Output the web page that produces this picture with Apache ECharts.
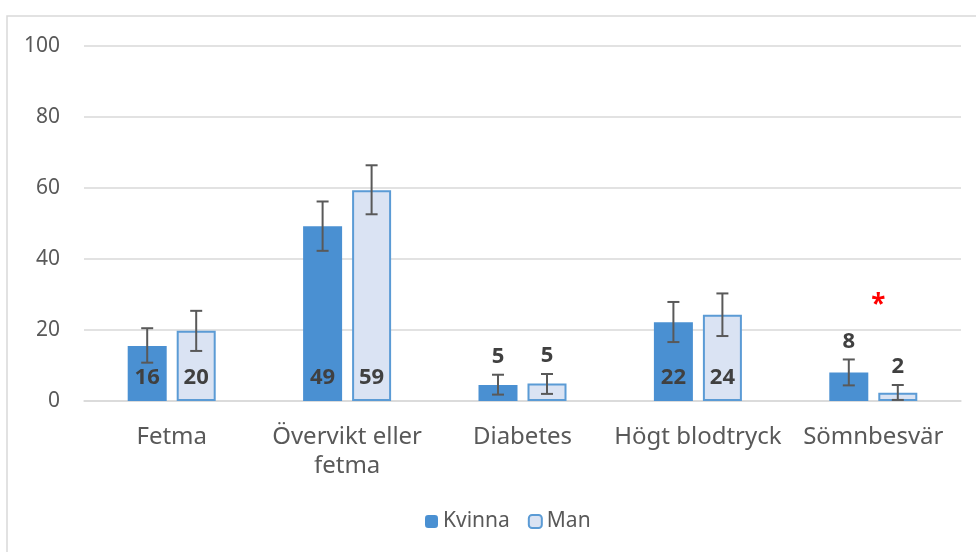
<!DOCTYPE html>
<html>
<head>
<meta charset="utf-8">
<script src="https://cdn.jsdelivr.net/npm/echarts@6/dist/echarts.min.js"></script>
<style>
  html, body { margin: 0; padding: 0; background: #fff; }
  #main { width: 976px; height: 552px; }
</style>
</head>
<body>
<div id="main"></div>
<script>
// data
var categories = ['Fetma', 'Övervikt eller\nfetma', 'Diabetes', 'Högt blodtryck', 'Sömnbesvär'];
var kvinna = [15.5, 49.2, 4.5, 22.2, 8.0];
var kvinnaLow = [10.8, 42.3, 1.8, 16.6, 4.4];
var kvinnaHigh = [20.5, 56.2, 7.4, 27.9, 11.7];
var kvinnaLabels = ['16', '49', '5', '22', '8'];
var man = [19.8, 59.4, 4.9, 24.3, 2.3];
var manLow = [14.1, 52.6, 2.0, 18.3, 0.3];
var manHigh = [25.4, 66.4, 7.6, 30.3, 4.5];
var manLabels = ['20', '59', '5', '24', '2'];
var sigMarks = ['', '', '', '', '*'];
var sigLevel = [0, 0, 0, 0, 27];
var yTicks = [0, 20, 40, 60, 80, 100];

var chart = echarts.init(document.getElementById('main'));

var BAR_W = 39;
var GAP = 10;
var OFF = (BAR_W + GAP) / 2;
var font = '"Noto Sans", "Open Sans", sans-serif';

function errData(vals, lows, highs) {
  return vals.map(function (v, i) {
    return [i, lows[i], highs[i], v];
  });
}

// error bars + value labels
function errRender(offset, labels) {
  return function (params, api) {
    var i = api.value(0);
    var lo = api.coord([i, api.value(1)]);
    var hi = api.coord([i, api.value(2)]);
    var x = lo[0] + offset;
    var cap = 6;
    var st = { stroke: '#595959', lineWidth: 2 };
    var children = [
      { type: 'line', shape: { x1: x, y1: lo[1], x2: x, y2: hi[1] }, style: st },
      { type: 'line', shape: { x1: x - cap, y1: lo[1], x2: x + cap, y2: lo[1] }, style: st },
      { type: 'line', shape: { x1: x - cap, y1: hi[1], x2: x + cap, y2: hi[1] }, style: st }
    ];
    var v = api.value(3);
    var base = api.coord([i, 0]);
    var ty, tv;
    if (v >= 10) { ty = base[1] - 23; tv = 'middle'; }
    else { ty = hi[1] - 7; tv = 'bottom'; }
    children.push({
      type: 'text',
      style: {
        x: x, y: ty, text: labels[params.dataIndex], align: 'center', verticalAlign: tv,
        fill: '#404040', font: 'bold 22px ' + font
      }
    });
    return { type: 'group', children: children };
  };
}

var option = {
  animation: false,
  graphic: [{
    type: 'rect',
    shape: { x: 7, y: 16, width: 1000, height: 600 },
    style: { fill: 'none', stroke: '#d9d9d9', lineWidth: 1.5 },
    silent: true,
    z: -1
  }],
  grid: { left: 84, right: 15, top: 46, bottom: 151 },
  legend: {
    bottom: 15,
    left: 420,
    itemWidth: 13,
    itemHeight: 13,
    itemGap: 18,
    textStyle: { fontFamily: font, fontSize: 21, color: '#595959' },
    data: ['Kvinna', 'Man']
  },
  xAxis: {
    type: 'category',
    data: categories,
    axisTick: { show: false },
    axisLine: { lineStyle: { color: '#d9d9d9', width: 1.5 } },
    axisLabel: {
      interval: 0, margin: 22,
      fontFamily: font, fontSize: 24, color: '#595959', lineHeight: 29
    }
  },
  yAxis: {
    type: 'value',
    min: yTicks[0],
    max: yTicks[yTicks.length - 1],
    interval: yTicks[1] - yTicks[0],
    axisLine: { show: false },
    axisTick: { show: false },
    axisLabel: { margin: 24, fontFamily: font, fontSize: 21, color: '#595959' },
    splitLine: { lineStyle: { color: '#d9d9d9', width: 1.5 } }
  },
  series: [
    {
      name: 'Kvinna', type: 'bar', data: kvinna,
      barWidth: BAR_W, barGap: (GAP / BAR_W * 100) + '%',
      itemStyle: { color: '#4a90d2' }
    },
    {
      name: 'Man', type: 'bar', data: man,
      barWidth: BAR_W,
      itemStyle: { color: '#dae3f3', borderColor: '#5b9bd5', borderWidth: 2 }
    },
    {
      type: 'custom', name: 'errK',
      data: errData(kvinna, kvinnaLow, kvinnaHigh),
      renderItem: errRender(-OFF, kvinnaLabels), z: 5, silent: true
    },
    {
      type: 'custom', name: 'errM',
      data: errData(man, manLow, manHigh),
      renderItem: errRender(OFF, manLabels), z: 5, silent: true
    },
    {
      type: 'custom', name: 'sig',
      data: sigLevel.map(function (s, i) { return [i, s]; }),
      renderItem: function (params, api) {
        var p = api.coord([api.value(0), api.value(1)]);
        return {
          type: 'text',
          style: {
            x: p[0] + 5, y: p[1], text: sigMarks[params.dataIndex], align: 'center', verticalAlign: 'middle',
            fill: '#ff0000', font: 'bold 26px ' + font
          }
        };
      },
      z: 5, silent: true
    }
  ]
};

chart.setOption(option);
</script>
</body>
</html>
